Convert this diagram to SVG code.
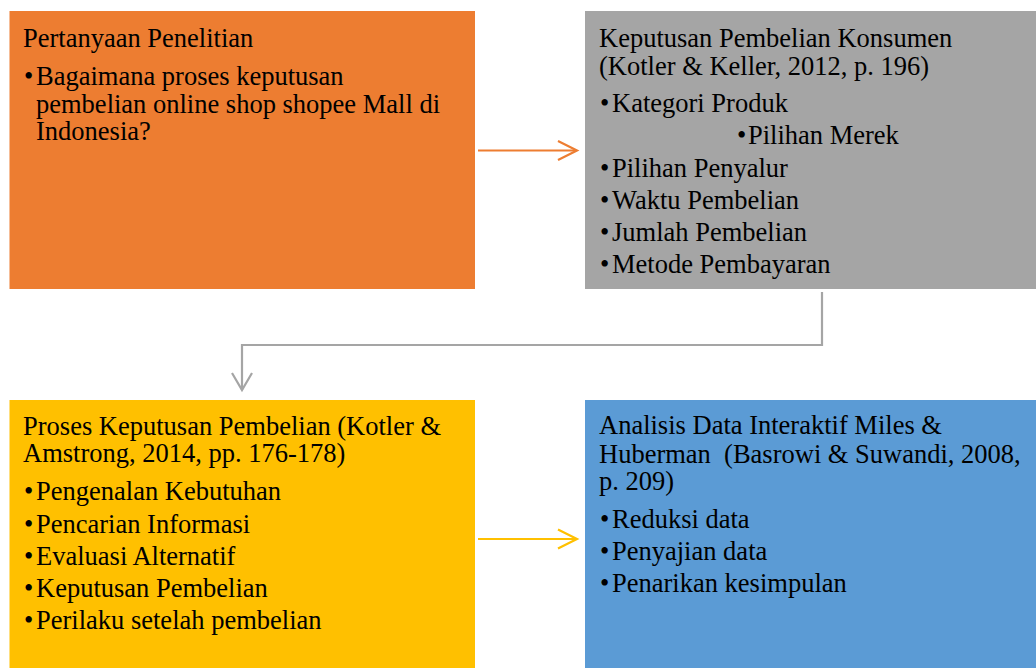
<svg xmlns="http://www.w3.org/2000/svg" width="1036" height="668" viewBox="0 0 1036 668">
  <style>
    text { font-family: "Liberation Serif", "Times New Roman", serif; font-size: 26.5px; fill: #000; }
    .bul { font-size: 26.5px; }
    .conn { fill: none; stroke-width: 2.2; stroke-linecap: butt; stroke-linejoin: miter; }
  </style>
  <rect width="1036" height="668" fill="#ffffff"/>

  <!-- Research question -->
  <g id="node-pertanyaan">
    <rect x="9.5" y="11" width="465.5" height="278" fill="#ED7D31"/>
    <text x="23" y="47">Pertanyaan Penelitian</text>
    <text class="bul" x="24" y="85">•</text>
    <text x="36" y="85">Bagaimana proses keputusan</text>
    <text x="36" y="113">pembelian online shop shopee Mall di</text>
    <text x="36" y="140">Indonesia?</text>
  </g>

  <!-- Consumer purchase decision -->
  <g id="node-keputusan">
    <rect x="585" y="11" width="451" height="278" fill="#A5A5A5"/>
    <text x="599" y="47">Keputusan Pembelian Konsumen</text>
    <text x="599" y="75">(Kotler &amp; Keller, 2012, p. 196)</text>
    <text class="bul" x="600" y="112">•</text>
    <text x="612" y="112">Kategori Produk</text>
    <text class="bul" x="737" y="144">•</text>
    <text x="748" y="144">Pilihan Merek</text>
    <text class="bul" x="600" y="177">•</text>
    <text x="612" y="177">Pilihan Penyalur</text>
    <text class="bul" x="600" y="209">•</text>
    <text x="612" y="209">Waktu Pembelian</text>
    <text class="bul" x="600" y="241">•</text>
    <text x="612" y="241">Jumlah Pembelian</text>
    <text class="bul" x="600" y="273">•</text>
    <text x="612" y="273">Metode Pembayaran</text>
  </g>

  <!-- Purchase decision process -->
  <g id="node-proses">
    <rect x="9.5" y="400" width="465.5" height="268" fill="#FFC000"/>
    <text x="23" y="435">Proses Keputusan Pembelian (Kotler &amp;</text>
    <text x="23" y="462">Amstrong, 2014, pp. 176-178)</text>
    <text class="bul" x="24" y="500">•</text>
    <text x="36" y="500">Pengenalan Kebutuhan</text>
    <text class="bul" x="24" y="533">•</text>
    <text x="36" y="533">Pencarian Informasi</text>
    <text class="bul" x="24" y="565">•</text>
    <text x="36" y="565">Evaluasi Alternatif</text>
    <text class="bul" x="24" y="597">•</text>
    <text x="36" y="597">Keputusan Pembelian</text>
    <text class="bul" x="24" y="629">•</text>
    <text x="36" y="629">Perilaku setelah pembelian</text>
  </g>

  <!-- Interactive data analysis -->
  <g id="node-analisis">
    <rect x="585" y="400" width="451" height="268" fill="#5B9BD5"/>
    <text x="599" y="434">Analisis Data Interaktif Miles &amp;</text>
    <text x="599" y="463" xml:space="preserve">Huberman  (Basrowi &amp; Suwandi, 2008,</text>
    <text x="599" y="490">p. 209)</text>
    <text class="bul" x="600" y="528">•</text>
    <text x="612" y="528">Reduksi data</text>
    <text class="bul" x="600" y="560">•</text>
    <text x="612" y="560">Penyajian data</text>
    <text class="bul" x="600" y="592">•</text>
    <text x="612" y="592">Penarikan kesimpulan</text>
  </g>

  <!-- Connectors -->
  <g id="connectors" class="conn">
    <path d="M478 150.5 H576" stroke="#ED7D31"/>
    <path d="M558 141 L577 150.5 L558 160" stroke="#ED7D31"/>
    <path d="M822 292 V345 H242 V390" stroke="#A5A5A5"/>
    <path d="M232 373 L242 390 L252 373" stroke="#A5A5A5"/>
    <path d="M478 539 H576" stroke="#FFC000"/>
    <path d="M558 529.5 L577 539 L558 548.5" stroke="#FFC000"/>
  </g>
</svg>
